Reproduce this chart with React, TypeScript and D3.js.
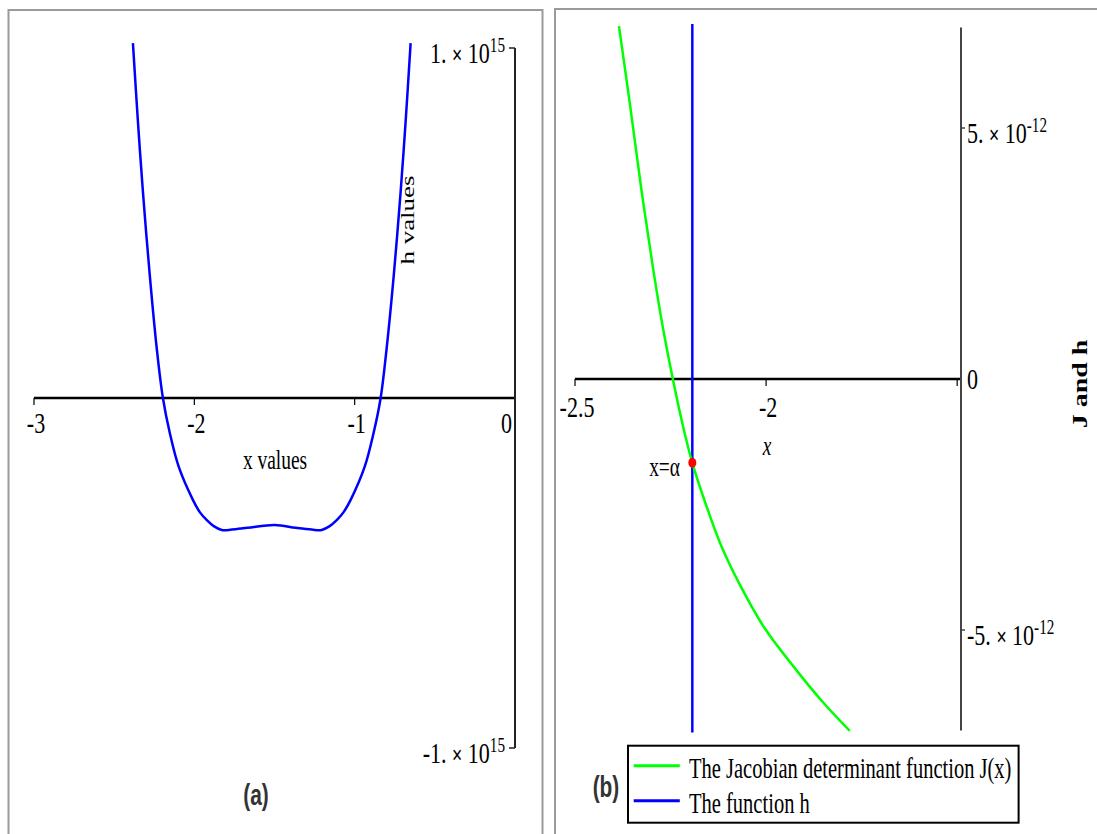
import React from 'react';
import * as d3 from 'd3';

// panel (a): the function h, values in units of 1e15
const hX = [-2.383, -2.352, -2.321, -2.277, -2.234, -2.196, -2.153, -2.097, -2.009, -1.966, -1.922, -1.879, -1.829,
    -1.766, -1.667, -1.498, -1.368, -1.268, -1.206, -1.156, -1.112, -1.069, -1.025, -0.938, -0.882, -0.838, -0.801,
    -0.757, -0.713, -0.682, -0.651];
const hY = [1.014, 0.791, 0.591, 0.346, 0.140, 0, -0.100, -0.197, -0.291, -0.326, -0.349, -0.366, -0.377,
    -0.376, -0.371, -0.363, -0.371, -0.376, -0.377, -0.366, -0.349, -0.326, -0.291, -0.197, -0.100, 0, 0.140,
    0.346, 0.591, 0.791, 1.014];
const aXTicks = [-3, -2, -1, 0];
const aXLabels = ['-3', '-2', '-1', '0'];
const aYTicks = [1, -1];
const aYLabels = ['1.', '-1.'];

// panel (b): Jacobian determinant J(x), values in units of 1e-12
const jX = [-2.385, -2.356, -2.326, -2.295, -2.269, -2.244, -2.218, -2.193, -2.157, -2.118, -2.067, -2.004, -1.927, -1.850, -1.781];
const jY = [7.03, 5.46, 3.76, 2.17, 0.98, 0, -0.92, -1.67, -2.51, -3.31, -4.12, -4.96, -5.74, -6.45, -7.01];
// h looks like a vertical line at x = alpha in this window
const hLineX = [-2.193, -2.193];
const hLineY = [7.07, -7.04];
const alphaX = -2.193;
const alphaJ = -1.67;
const bXTicks = [-2.5, -2, -1.5];
const bXLabels = ['-2.5', '-2', ''];
const bYTicks = [5, 0, -5];
const bYLabels = ['5.', '0', '-5.'];

const SX = 0.72;
const SERIF = '"Liberation Serif", "Times New Roman", serif';
const SANS = '"Liberation Sans", Arial, sans-serif';

function T(props: any) {
    const {x, y, anchor = 'start', size = 27, sx = SX, weight = 'normal', family = SERIF, rotate = false, italic = false, fill = '#000', children} = props;
    let tr = 'translate(' + x + ',' + y + ') scale(' + sx + ',1)';
    if (rotate) tr += ' rotate(-90)';
    return (
        <text transform={tr} textAnchor={anchor} fontSize={size} fontWeight={weight} fontFamily={family}
              fontStyle={italic ? 'italic' : 'normal'} fill={fill}>{children}</text>
    );
}

// tick label text
function TL(props: any) {
    return <T size={29} sx={0.76} {...props}/>;
}

function Pow(props: any) {
    const {mant, exp} = props;
    return [
        <tspan key="m">{mant} </tspan>,
        <tspan key="t" fontFamily={SANS} fontSize={23}>×</tspan>,
        <tspan key="b"> 10</tspan>,
        <tspan key="e" dy={-11} fontSize={20}>{exp}</tspan>
    ];
}

export default function App() {
    // panel (a) scales
    const xa = d3.scaleLinear().domain([-3, 0]).range([34, 515]);
    const ya = d3.scaleLinear().domain([-1, 1]).range([748, 48]);
    // panel (b) scales
    const xb = d3.scaleLinear().domain([-2.5, -1.49]).range([575, 961]);
    const yb = d3.scaleLinear().domain([-7, 7]).range([730.4, 27.6]);

    const hData = hX.map((x, i) => [x, hY[i]] as [number, number]);
    const jData = jX.map((x, i) => [x, jY[i]] as [number, number]);
    const hlData = hLineX.map((x, i) => [x, hLineY[i]] as [number, number]);

    const lineA = d3.line<[number, number]>().x(d => xa(d[0])).y(d => ya(d[1])).curve(d3.curveCatmullRom.alpha(0.5));
    const lineB = d3.line<[number, number]>().x(d => xb(d[0])).y(d => yb(d[1])).curve(d3.curveCatmullRom.alpha(0.5));
    const lineBV = d3.line<[number, number]>().x(d => xb(d[0])).y(d => yb(d[1]));

    return (
        <svg width={1097} height={834} style={{position: 'absolute', left: 0, top: 0, background: '#fff'}}>
            {/* panel frames */}
            <rect x={8.5} y={10} width={534} height={840} fill="none" stroke="#9a9a9a" strokeWidth={2}/>
            <rect x={555} y={9} width={560} height={840} fill="none" stroke="#9a9a9a" strokeWidth={2}/>

            {/* ---- panel (a) ---- */}
            <line x1={xa(-3)} x2={xa(0)} y1={ya(0)} y2={ya(0)} stroke="#000" strokeWidth={2.5}/>
            {aXTicks.map(t => (
                <line key={'axt' + t} x1={xa(t)} x2={xa(t)} y1={ya(0)} y2={ya(0) + 7} stroke="#000" strokeWidth={1.2}/>
            ))}
            <line x1={xa(0)} x2={xa(0)} y1={ya(1)} y2={ya(-1)} stroke="#222" strokeWidth={2}/>
            {aYTicks.map(t => (
                <line key={'ayt' + t} x1={xa(0) - 6} x2={xa(0)} y1={ya(t)} y2={ya(t)} stroke="#222" strokeWidth={1.5}/>
            ))}
            {aXTicks.map((t, i) => t === 0 ? (
                <TL key={'axl' + t} x={xa(t) - 3} y={ya(0) + 35} anchor="end">{aXLabels[i]}</TL>
            ) : (
                <TL key={'axl' + t} x={xa(t) + 2} y={ya(0) + 35} anchor="middle">{aXLabels[i]}</TL>
            ))}
            {aYTicks.map((t, i) => (
                <TL key={'ayl' + t} x={xa(0) - 10} y={ya(t) + 15} anchor="end">
                    <Pow mant={aYLabels[i]} exp="15"/>
                </TL>
            ))}
            <T x={275} y={469} anchor="middle">x values</T>
            <T x={414} y={220} anchor="middle" rotate>h values</T>
            <path d={lineA(hData) || ''} fill="none" stroke="#0000ff" strokeWidth={2.5}/>
            <T x={256} y={805} anchor="middle" size={29} weight="bold" family={SANS} fill="#333">(a)</T>

            {/* ---- panel (b) ---- */}
            <line x1={xb(-2.5)} x2={xb(-1.49)} y1={yb(0)} y2={yb(0)} stroke="#000" strokeWidth={2.5}/>
            {bXTicks.map(t => (
                <line key={'bxt' + t} x1={xb(t)} x2={xb(t)} y1={yb(0)} y2={yb(0) + 7} stroke="#000" strokeWidth={1.2}/>
            ))}
            <line x1={xb(-1.49)} x2={xb(-1.49)} y1={yb(7)} y2={yb(-7)} stroke="#444" strokeWidth={2}/>
            {bYTicks.filter(t => t !== 0).map(t => (
                <line key={'byt' + t} x1={xb(-1.49)} x2={xb(-1.49) + 4} y1={yb(t)} y2={yb(t)} stroke="#444" strokeWidth={1.5}/>
            ))}
            {bXTicks.map((t, i) => (
                <TL key={'bxl' + t} x={xb(t) + 2} y={yb(0) + 38} anchor="middle">{bXLabels[i]}</TL>
            ))}
            {bYTicks.map((t, i) => t === 0 ? (
                <TL key={'byl' + t} x={xb(-1.49) + 6} y={yb(t) + 10}>{bYLabels[i]}</TL>
            ) : (
                <TL key={'byl' + t} x={xb(-1.49) + 6} y={yb(t) + 15}>
                    <Pow mant={bYLabels[i]} exp="-12"/>
                </TL>
            ))}
            <T x={767} y={455} anchor="middle" italic>x</T>
            <T x={1087} y={384} anchor="middle" rotate weight="bold" size={28}>J and h</T>

            <path d={lineBV(hlData) || ''} fill="none" stroke="#0000ff" strokeWidth={2.5}/>
            <path d={lineB(jData) || ''} fill="none" stroke="#00ff00" strokeWidth={2.5}/>
            <ellipse cx={xb(alphaX)} cy={yb(alphaJ)} rx={4} ry={5} fill="#ff0000"/>
            <T x={680} y={476} anchor="end">x=α</T>

            {/* legend */}
            <rect x={628} y={745.7} width={390.6} height={77} fill="#fff" stroke="#000" strokeWidth={2}/>
            <line x1={633.7} x2={679.8} y1={765.7} y2={765.7} stroke="#00ff00" strokeWidth={3}/>
            <line x1={633.7} x2={679.8} y1={800.7} y2={800.7} stroke="#0000ff" strokeWidth={3}/>
            <T x={689} y={778} size={28.5}>The Jacobian determinant function J(x)</T>
            <T x={689} y={813} size={28.5}>The function h</T>
            <T x={606} y={797} anchor="middle" size={29} weight="bold" family={SANS} fill="#333">(b)</T>
        </svg>
    );
}
